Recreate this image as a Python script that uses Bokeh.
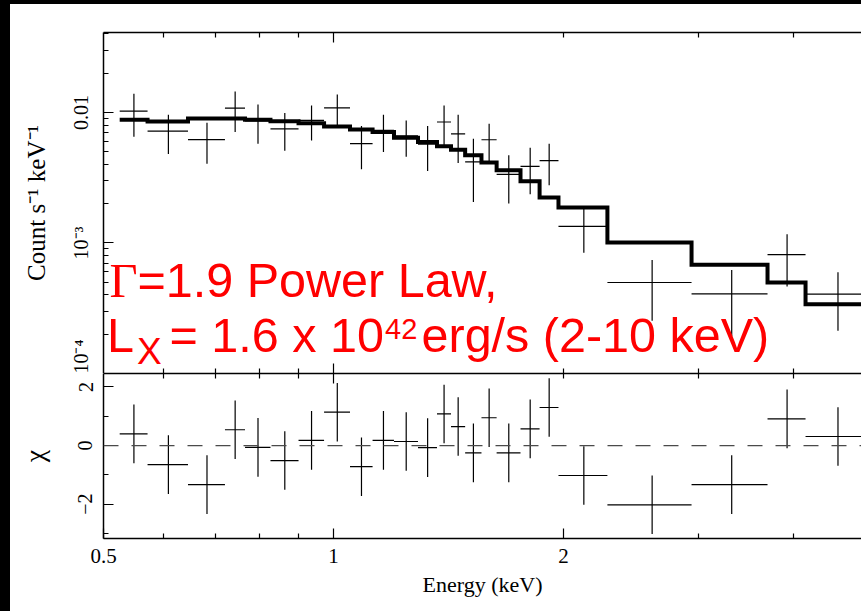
from bokeh.plotting import figure
from bokeh.models import (Range1d, LogAxis, LinearAxis, FixedTicker, Span, Label, Div,
                          ColumnDataSource, LogScale)
from bokeh.layouts import row, column
from bokeh.embed import file_html
from bokeh.resources import INLINE

# ---------------- data ----------------
# energy bin edges (keV)
edges = [0.525, 0.571, 0.645, 0.721, 0.766, 0.827, 0.900, 0.972, 1.051, 1.125, 1.200,
         1.290, 1.366, 1.425, 1.487, 1.562, 1.635, 1.757, 1.861, 1.970, 2.283, 2.942,
         3.699, 4.148, 5.000]
# observed count rate (counts s^-1 keV^-1) and 1-sigma errors
rate = [0.01023, 0.0072, 0.00619, 0.01079, 0.00863, 0.0075, 0.00871, 0.01083, 0.00577,
        0.00729, 0.00663, 0.00571, 0.00845, 0.00685, 0.00418, 0.00618, 0.00336, 0.00386,
        0.00427, 0.00134, 0.000498, 0.000407, 0.000815, 0.000405]
rate_err = [0.0037, 0.0024, 0.00215, 0.0037, 0.00287, 0.0024, 0.0026, 0.00288, 0.0021,
            0.00231, 0.00206, 0.00215, 0.00285, 0.00275, 0.00212, 0.0020, 0.00135, 0.0015,
            0.0015, 0.0005, 0.000244, 0.000215, 0.00035, 0.000192]
# folded power-law model per bin
model = [0.0088, 0.00854, 0.0090, 0.0090, 0.0088, 0.00858, 0.00828, 0.00782, 0.00742,
         0.00709, 0.00641, 0.00593, 0.0055, 0.00519, 0.0047, 0.00413, 0.00361, 0.00297,
         0.00223, 0.00187, 0.00101, 0.00068, 0.000498, 0.00034]
# residuals (chi)
chi = [0.40, -0.65, -1.33, 0.54, -0.06, -0.51, 0.18, 1.14, -0.72, 0.18, 0.14, -0.07,
       1.08, 0.65, -0.25, 0.95, -0.25, 0.57, 1.30, -1.02, -2.02, -1.33, 0.91, 0.31]

# tick positions / labels
x_major = [0.5, 1, 2]
x_major_labels = ["0.5", "1", "2"]
x_minor_lab = [0.6, 0.7, 0.8, 0.9, 3, 4]
x_long = [1]
x_short = [0.6, 0.7, 0.8, 0.9, 2, 3, 4]
y_major = [1e-4, 1e-3, 1e-2]
y_major_labels = ["10\u207b\u2074", "10\u207b\u00b3", "0.01"]
y_minor = [2e-4, 3e-4, 4e-4, 5e-4, 6e-4, 7e-4, 8e-4, 9e-4,
           2e-3, 3e-3, 4e-3, 5e-3, 6e-3, 7e-3, 8e-3, 9e-3, 2e-2, 3e-2, 4e-2]
chi_major = [-2, 0, 2]
chi_major_labels = ["\u22122", "0", "2"]
chi_minor = [-3, -1, 1]

# ---------------- ranges ----------------
X_START, X_END = 0.5, 4.91
Y_START, Y_END = 1e-4, 0.041
CHI_START, CHI_END = -3.17, 2.46

lo = edges[:-1]
hi = edges[1:]
mid = [(a + b) / 2 for a, b in zip(lo, hi)]

src = ColumnDataSource(dict(
    lo=lo, hi=hi, mid=mid, rate=rate,
    top=[r + e for r, e in zip(rate, rate_err)],
    bot=[r - e for r, e in zip(rate, rate_err)],
    chi=chi, chi_top=[c + 1 for c in chi], chi_bot=[c - 1 for c in chi],
))

SERIF = "Liberation Serif"
SANS = "Liberation Sans"
AX_W = 1.5
TICK_FS = "20px"
TICK_STANDOFF = 11
xr = Range1d(X_START, X_END)


def make_fig(height, yr, ylog, top, bottom):
    f = figure(width=851, height=height, x_axis_type=None, y_axis_type=None,
               x_range=xr, y_range=yr, output_backend="svg", toolbar_location=None,
               min_border_left=93, min_border_right=0, min_border_top=top,
               min_border_bottom=bottom)
    f.x_scale = LogScale()
    if ylog:
        f.y_scale = LogScale()
    f.outline_line_color = None
    f.background_fill_color = "white"
    f.border_fill_color = "white"
    return f


def tick_only_axis(f, side):
    ax = LogAxis(ticker=FixedTicker(ticks=x_long, minor_ticks=x_short),
                 major_tick_in=10, major_tick_out=0, minor_tick_in=5, minor_tick_out=0,
                 major_label_text_font_size="1px", major_label_text_alpha=0,
                 major_label_standoff=0,
                 axis_line_width=AX_W, major_tick_line_width=1.2, minor_tick_line_width=1.2)
    f.add_layout(ax, side)


# ================= top panel =================
p1 = make_fig(369, Range1d(Y_START, Y_END), True, 28, 0)

left1 = LogAxis(ticker=FixedTicker(ticks=y_major, minor_ticks=y_minor),
                major_label_overrides=dict(zip(y_major, y_major_labels)),
                major_tick_in=10, major_tick_out=0, minor_tick_in=5, minor_tick_out=0,
                major_label_orientation="vertical", major_label_standoff=TICK_STANDOFF,
                major_label_text_font=SERIF, major_label_text_font_size=TICK_FS,
                major_label_text_color="black",
                axis_label="Count s\u207b\u00b9 keV\u207b\u00b9", axis_label_standoff=18,
                axis_label_text_font=SERIF, axis_label_text_font_size="25px",
                axis_label_text_font_style="normal", axis_label_text_color="black",
                axis_line_width=AX_W, major_tick_line_width=1.2, minor_tick_line_width=1.2)
p1.add_layout(left1, "left")
tick_only_axis(p1, "above")
tick_only_axis(p1, "below")

p1.segment(x0="lo", x1="hi", y0="rate", y1="rate", source=src, line_color="black", line_width=1.2)
p1.segment(x0="mid", x1="mid", y0="bot", y1="top", source=src, line_color="black", line_width=1.2)
p1.step(x=edges, y=model + [model[-1]], mode="after", line_color="black", line_width=4,
        line_join="miter")


# red annotation (positions in page pixels -> data coordinates of the top panel)
def ex(px):
    return X_START * 10 ** ((px - 103) / 764.0)


def vy(py, fs):
    # baseline correction for Bokeh's text placement
    return 10 ** (-4 + (373 - (py - 0.35 * fs)) / 130.5)


RED = "#ff0000"
FS = 48.5
parts = [
    ("\u0393", SERIF, FS, 109, 296.7),
    ("=1.9 Power Law,", SANS, FS, 137, 296.7),
    ("L", SANS, FS, 106.5, 351.7),
    ("X", SANS, 37, 136.5, 364),
    ("= 1.6 x 10", SANS, FS, 169, 351.7),
    ("42", SANS, 29, 384.5, 338.8),
    ("erg/s (2-10 keV)", SANS, FS, 421, 351.7),
]
for txt, fnt, fs, px, py in parts:
    p1.add_layout(Label(x=ex(px), y=vy(py, fs), text=txt, text_font=fnt,
                        text_font_size=f"{fs}px", text_color=RED,
                        text_baseline="alphabetic"))

# ================= residual panel =================
p2 = make_fig(238, Range1d(CHI_START, CHI_END), False, 0, 73)

left2 = LinearAxis(ticker=FixedTicker(ticks=chi_major, minor_ticks=chi_minor),
                   major_label_overrides=dict(zip(chi_major, chi_major_labels)),
                   major_tick_in=10, major_tick_out=0, minor_tick_in=5, minor_tick_out=0,
                   major_label_orientation="vertical", major_label_standoff=TICK_STANDOFF,
                   major_label_text_font=SERIF, major_label_text_font_size=TICK_FS,
                   major_label_text_color="black",
                   axis_label="\u03c7", axis_label_standoff=26,
                   axis_label_text_font=SERIF, axis_label_text_font_size="28px",
                   axis_label_text_font_style="normal", axis_label_text_color="black",
                   axis_line_width=AX_W, major_tick_line_width=1.2, minor_tick_line_width=1.2)
p2.add_layout(left2, "left")
tick_only_axis(p2, "above")

bottom2 = LogAxis(ticker=FixedTicker(ticks=x_major, minor_ticks=x_minor_lab),
                  major_label_overrides=dict(zip(x_major, x_major_labels)),
                  major_tick_in=10, major_tick_out=0, minor_tick_in=5, minor_tick_out=0,
                  major_label_standoff=10,
                  major_label_text_font=SERIF, major_label_text_font_size="21px",
                  major_label_text_color="black",
                  axis_label="Energy (keV)", axis_label_standoff=6,
                  axis_label_text_font=SERIF, axis_label_text_font_size="22px",
                  axis_label_text_font_style="normal", axis_label_text_color="black",
                  axis_line_width=AX_W, major_tick_line_width=1.2, minor_tick_line_width=1.2)
p2.add_layout(bottom2, "below")

p2.add_layout(Span(location=0, dimension="width", line_color="#4a4a4a",
                   line_width=1.3, line_dash="15 13"))
p2.segment(x0="lo", x1="hi", y0="chi", y1="chi", source=src,
           line_color="black", line_width=1.2)
p2.segment(x0="mid", x1="mid", y0="chi_bot", y1="chi_top", source=src,
           line_color="black", line_width=1.2)

strip_left = Div(width=10, height=611, margin=(0, 0, 0, 0),
                 styles={"background-color": "black"})
strip_top = Div(width=851, height=4, margin=(0, 0, 0, 0),
                styles={"background-color": "black"})
layout = row(strip_left, column(strip_top, p1, p2))

open("out.html", "w").write(file_html(layout, INLINE))
